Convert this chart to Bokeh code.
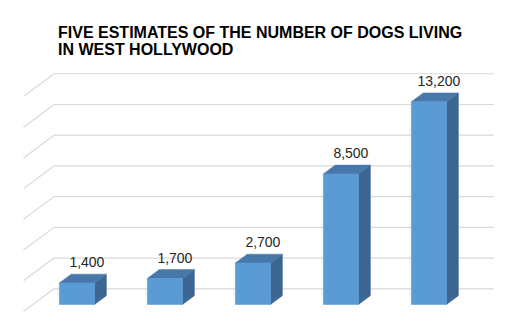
from bokeh.plotting import figure
from bokeh.models import Range1d, Label
from bokeh.core.properties import value
from bokeh.embed import file_html
from bokeh.resources import INLINE

# ---- data ----
estimates = ["Estimate 1", "Estimate 2", "Estimate 3", "Estimate 4", "Estimate 5"]
dogs = [1400, 1700, 2700, 8500, 13200]
grid_levels = [0, 2000, 4000, 6000, 8000, 10000, 12000, 14000]
title_lines = ["FIVE ESTIMATES OF THE NUMBER OF DOGS LIVING", "IN WEST HOLLYWOOD"]

# ---- layout (pixels) ----
W, H = 520, 327
PX_PER_CAT = 88.0            # horizontal pixels per category slot
PX_PER_VAL = 30.72 / 2000.0  # vertical pixels per value unit
ORIGIN_X, ORIGIN_Y = 23.0, 311.0  # front-plane origin, pixels from top-left
DEPTH_PX = (30.5, -22.7)     # full 3D depth vector in pixels

def dx_px(px):
    return px / PX_PER_CAT

def dy_px(px):
    return px / PX_PER_VAL

def sx(px):
    return (px - ORIGIN_X) / PX_PER_CAT

def sy(py):
    return (ORIGIN_Y - py) / PX_PER_VAL

DX = dx_px(DEPTH_PX[0])
DY = dy_px(-DEPTH_PX[1])

BAR_W = 0.4
BAR_FRONT = 0.308   # depth fraction of bar front face
BAR_DEPTH = 0.39    # bar depth as fraction of full depth

p = figure(width=W, height=H, output_backend="svg", toolbar_location=None,
           x_range=Range1d(sx(0), sx(W)), y_range=Range1d(sy(H), sy(0)),
           x_axis_location=None, y_axis_location=None, min_border=0,
           outline_line_color=None, background_fill_color="white",
           border_fill_color="white")
p.xgrid.visible = False
p.ygrid.visible = False

# ---- walls: gridlines ----
n = len(dogs)
p.multi_line(xs=[[DX, n + DX] for g in grid_levels],
             ys=[[g + DY, g + DY] for g in grid_levels],
             line_color="#d9d9d9", line_width=1.2)
p.multi_line(xs=[[0, DX] for g in grid_levels],
             ys=[[g, g + DY] for g in grid_levels],
             line_color="#d9d9d9", line_width=1.2)

# ---- 3D bars ----
fx, fy, tx, ty, rx, ry = [], [], [], [], [], []
bdx, bdy = BAR_DEPTH * DX, BAR_DEPTH * DY
lab_x, lab_y, lab_t = [], [], []
for i, v in enumerate(dogs):
    x0 = i + 0.5 - BAR_W / 2 + BAR_FRONT * DX
    x1 = x0 + BAR_W
    y0 = BAR_FRONT * DY
    y1 = v + BAR_FRONT * DY
    fx.append([x0, x1, x1, x0]); fy.append([y0, y0, y1, y1])
    tx.append([x0, x1, x1 + bdx, x0 + bdx]); ty.append([y1, y1, y1 + bdy, y1 + bdy])
    rx.append([x1, x1 + bdx, x1 + bdx, x1]); ry.append([y0, y0 + bdy, y1 + bdy, y1])
    lab_x.append((x0 + x1) / 2)
    lab_y.append(y1 + bdy)
    lab_t.append(f"{v:,}")

p.patches(rx, ry, fill_color="#3d6690", line_color="#3d6690", line_width=0.5)
p.patches(tx, ty, fill_color="#4878aa", line_color="#4878aa", line_width=0.5)
p.patches(fx, fy, fill_color="#5b9bd5", line_color="#5b9bd5", line_width=0.5)

p.text(x=lab_x, y=lab_y, text=lab_t, x_offset=10, y_offset=-12,
       text_align="center", text_baseline="middle",
       text_font=value("Liberation Sans"), text_font_size="14px", text_color="#262626")

# ---- title ----
for k, line in enumerate(title_lines):
    p.add_layout(Label(x=sx(57.5), y=sy(31.5 + 17.5 * k), text=line,
                       text_font="Liberation Sans", text_font_style="bold",
                       text_font_size="16px", text_color="#000000",
                       text_baseline="alphabetic", text_align="left"))

open("out.html", "w").write(file_html(p, INLINE))
